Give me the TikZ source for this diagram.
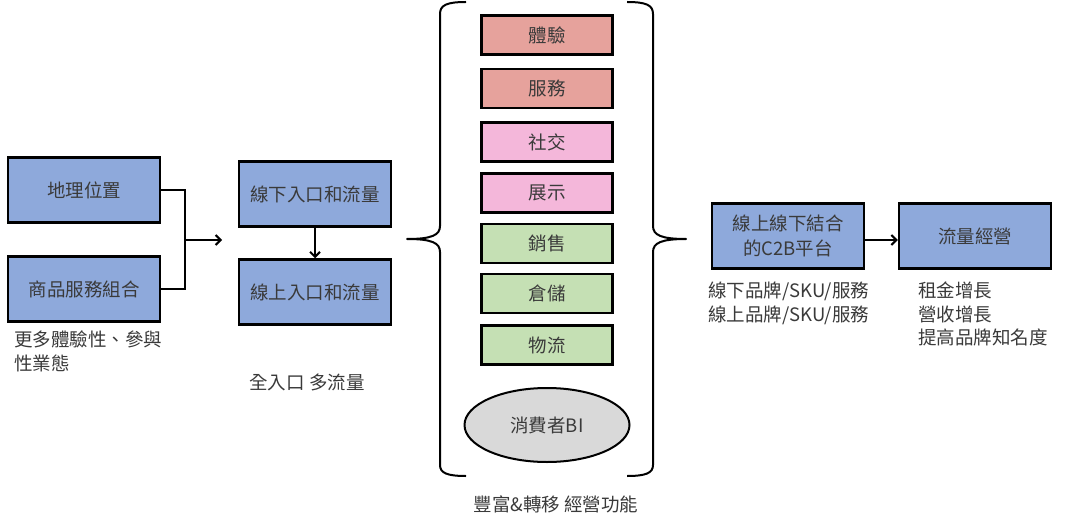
\documentclass[tikz,border=0pt]{standalone}
\usepackage{fontspec}
\setmainfont{Noto Sans CJK TC}
\usetikzlibrary{shapes.geometric,arrows.meta}
\definecolor{bluebox}{HTML}{8EA9DB}
\definecolor{redbox}{HTML}{E6A29C}
\definecolor{pinkbox}{HTML}{F4B7DA}
\definecolor{greenbox}{HTML}{C5E0B4}
\definecolor{graybox}{HTML}{D9D9D9}
\definecolor{txt}{HTML}{3A3A3A}
\tikzset{
  bluenode/.style={draw=black, line width=2.5pt, fill=bluebox, minimum width=152pt, minimum height=65pt, inner sep=0pt, text=txt, align=center, font=\fontsize{18.5}{25}\selectfont},
  colbox/.style={draw=black, line width=2.5pt, minimum width=131pt, minimum height=39pt, inner sep=0pt, text=txt, font=\fontsize{18.5}{22}\selectfont},
  caption/.style={text=txt, align=left, inner sep=0pt, font=\fontsize{18.5}{23.5}\selectfont},
  conn/.style={line width=2pt, draw=black},
  arr/.style={conn, -{Straight Barb[length=5pt,width=10pt]}},
  brace/.style={line width=2pt, draw=black, line join=round}
}
\begin{document}
\begin{tikzpicture}[x=1pt,y=-1pt]
\useasboundingbox (0,0) rectangle (1091,529);
\fill[white] (0,0) rectangle (1091,529);
% left boxes
\node[bluenode] (geo) at (84,190) {地理位置};
\node[bluenode] (prod) at (84,289) {商品服務組合};
\node[caption, anchor=north west] (cap1) at (14,331) {更多體驗性、參與\\性業態};
\coordinate (join) at (185,240);
\coordinate (arrEnd) at (222,240);
\draw[conn] (geo.east) -| (join) |- (prod.east);
\draw[arr] (join) -- (arrEnd);
% middle-left boxes
\node[bluenode] (off) at (315,194) {線下入口和流量};
\node[bluenode] (on) at (315,292) {線上入口和流量};
\draw[arr] (off.south) -- (on.north);
\node[caption, anchor=center] (cap2) at (307,382) {全入口 多流量};
% left brace
\coordinate (lbtip) at (407,239);
\draw[brace] (466,2) .. controls (447,2) and (440,5) .. (440,14) -- (440,226) .. controls (440,235) and (432,239) .. (lbtip) .. controls (432,239) and (440,243) .. (440,252) -- (440,465) .. controls (440,473) and (447,476) .. (466,476);
% right brace
\coordinate (rbtip) at (686,239);
\draw[brace] (627,2) .. controls (646,2) and (653,5) .. (653,14) -- (653,226) .. controls (653,235) and (661,239) .. (rbtip) .. controls (661,239) and (653,243) .. (653,252) -- (653,465) .. controls (653,473) and (646,476) .. (627,476);
% colored boxes
\node[colbox, fill=redbox] (b1) at (547,35) {體驗};
\node[colbox, fill=redbox] (b2) at (547,88.5) {服務};
\node[colbox, fill=pinkbox] (b3) at (547,142) {社交};
\node[colbox, fill=pinkbox] (b4) at (547,193) {展示};
\node[colbox, fill=greenbox] (b5) at (547,243.5) {銷售};
\node[colbox, fill=greenbox] (b6) at (547,293.5) {倉儲};
\node[colbox, fill=greenbox] (b7) at (547,345) {物流};
\node[ellipse, draw=black, line width=2pt, fill=graybox, minimum width=165pt, minimum height=74pt, inner sep=0pt, text=txt, font=\fontsize{18.5}{22}\selectfont] (bi) at (547,425) {消費者BI};
\node[caption, anchor=center] (cap3) at (556,504) {豐富\&轉移 經營功能};
% right boxes
\node[bluenode] (c2b) at (788,236) {線上線下結合\\的C2B平台};
\node[bluenode] (flow) at (975,236) {流量經營};
\draw[arr] (c2b.east |- 0,240) -- (flow.west |- 0,240);
\node[caption, anchor=north west] (cap4) at (708,282) {線下品牌/SKU/服務\\線上品牌/SKU/服務};
\node[caption, anchor=north west] (cap5) at (918,282) {租金增長\\營收增長\\提高品牌知名度};
\end{tikzpicture}
\end{document}
